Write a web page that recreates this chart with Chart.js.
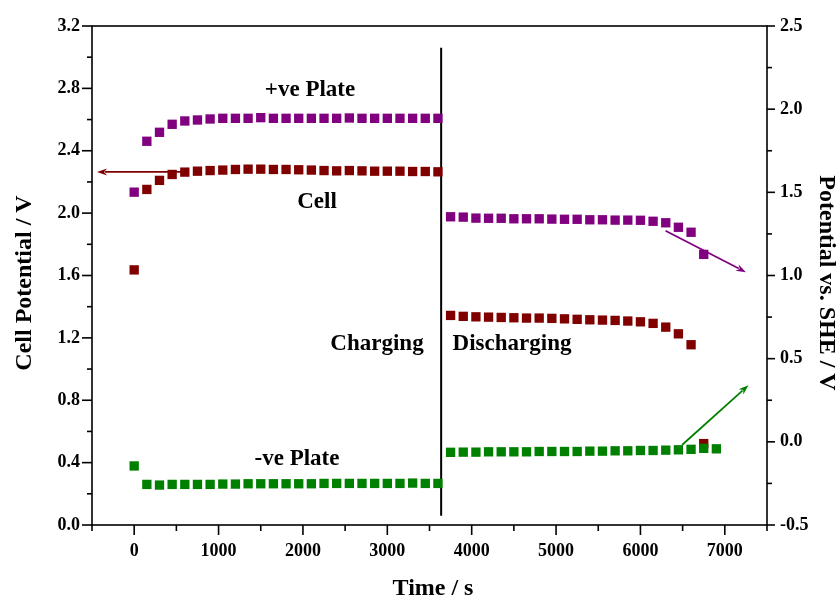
<!DOCTYPE html>
<html><head><meta charset="utf-8">
<script src="https://cdn.jsdelivr.net/npm/chart.js@4/dist/chart.umd.min.js"></script>
<style>html,body{margin:0;padding:0;background:#fff}</style>
</head><body>
<canvas id="c" width="838" height="598"></canvas>
<script>
// ---- data ----
const chargeTimes = [0,150,300,450,600,750,900,1050,1200,1350,1500,1650,1800,1950,2100,2250,2400,2550,2700,2850,3000,3150,3300,3450,3600];
const plusCharge  = [1.501,1.807,1.861,1.909,1.929,1.935,1.941,1.945,1.945,1.945,1.949,1.945,1.945,1.945,1.945,1.945,1.945,1.947,1.945,1.945,1.945,1.945,1.945,1.945,1.945];
const cellCharge  = [1.636,2.152,2.210,2.248,2.263,2.269,2.273,2.276,2.280,2.282,2.282,2.280,2.280,2.278,2.276,2.273,2.271,2.273,2.271,2.269,2.269,2.269,2.267,2.267,2.265];
const minusCharge = [-0.145,-0.256,-0.260,-0.256,-0.256,-0.256,-0.256,-0.254,-0.254,-0.252,-0.252,-0.252,-0.252,-0.252,-0.252,-0.250,-0.250,-0.250,-0.250,-0.250,-0.250,-0.250,-0.248,-0.250,-0.250];

const dischargeTimes = [3750,3900,4050,4200,4350,4500,4650,4800,4950,5100,5250,5400,5550,5700,5850,6000,6150,6300,6450,6600,6750,6900];
const plusDischarge  = [1.353,1.351,1.345,1.344,1.344,1.341,1.341,1.341,1.339,1.338,1.338,1.335,1.335,1.333,1.333,1.332,1.326,1.317,1.290,1.260,1.127];
const cellDischarge  = [1.344,1.338,1.335,1.333,1.331,1.329,1.327,1.327,1.325,1.322,1.319,1.316,1.314,1.312,1.308,1.303,1.293,1.269,1.226,1.156,0.522];
const minusDischarge = [-0.063,-0.062,-0.062,-0.060,-0.060,-0.060,-0.060,-0.058,-0.058,-0.058,-0.058,-0.056,-0.056,-0.054,-0.054,-0.052,-0.052,-0.050,-0.048,-0.045,-0.039,-0.042];

const xTickLabels = ['0','1000','2000','3000','4000','5000','6000','7000'];
const leftTickLabels = ['0.0','0.4','0.8','1.2','1.6','2.0','2.4','2.8','3.2'];
const rightTickLabels = ['-0.5','0.0','0.5','1.0','1.5','2.0','2.5'];

const seriesNames = ['+ve Plate','Cell','-ve Plate'];
const phaseNames = ['Charging','Discharging'];
const axisTitles = {x:'Time / s', left:'Cell Potential / V', right:'Potential vs. SHE / V'};

// annotation anchors in data units
const switchTime = 3638;               // charge/discharge divider
const dividerRange = [0.06, 3.06];     // left-axis units
const cellArrow  = {from:[600, 2.264], to:[-440, 2.264], axis:'yL'};
const plusArrow  = {from:[6297, 1.269], to:[7250, 1.020], axis:'yR'};
const minusArrow = {from:[6493, -0.019], to:[7280, 0.340], axis:'yR'};

function pts(t, v){ return v.map((y,i)=>({x:t[i], y})); }

const PURPLE='#800080', MAROON='#800000', GREEN='#008000';
const FONT = "'Liberation Serif','Times New Roman',serif";

const deco = {
  id:'deco',
  beforeDatasetsDraw(chart){
    const {ctx, chartArea:a, scales} = chart;
    ctx.save();
    ctx.strokeStyle='#000'; ctx.lineWidth=1.6;
    ctx.strokeRect(a.left, a.top, a.right-a.left, a.bottom-a.top);
    const xd = scales.x.getPixelForValue(switchTime);
    ctx.lineWidth=2;
    ctx.beginPath();
    ctx.moveTo(xd, scales.yL.getPixelForValue(dividerRange[0]));
    ctx.lineTo(xd, scales.yL.getPixelForValue(dividerRange[1]));
    ctx.stroke();
    ctx.restore();
  },
  afterDatasetsDraw(chart){
    const {ctx, scales} = chart;
    function arrow(ar, color){
      const ys = scales[ar.axis];
      const x0=scales.x.getPixelForValue(ar.from[0]), y0=ys.getPixelForValue(ar.from[1]);
      const x1=scales.x.getPixelForValue(ar.to[0]),   y1=ys.getPixelForValue(ar.to[1]);
      const ang=Math.atan2(y1-y0,x1-x0), L=10, W=3.5;
      ctx.save();
      ctx.strokeStyle=color; ctx.fillStyle=color; ctx.lineWidth=1.8;
      ctx.beginPath(); ctx.moveTo(x0,y0);
      ctx.lineTo(x1-Math.cos(ang)*L*0.8, y1-Math.sin(ang)*L*0.8); ctx.stroke();
      ctx.beginPath();
      ctx.moveTo(x1,y1);
      ctx.lineTo(x1-Math.cos(ang)*L+Math.sin(ang)*W, y1-Math.sin(ang)*L-Math.cos(ang)*W);
      ctx.lineTo(x1-Math.cos(ang)*L*0.7, y1-Math.sin(ang)*L*0.7);
      ctx.lineTo(x1-Math.cos(ang)*L-Math.sin(ang)*W, y1-Math.sin(ang)*L+Math.cos(ang)*W);
      ctx.closePath(); ctx.fill();
      ctx.restore();
    }
    arrow(cellArrow, MAROON);
    arrow(plusArrow, PURPLE);
    arrow(minusArrow, GREEN);
  },
  afterDraw(chart){
    const {ctx, chartArea:a, scales} = chart;
    ctx.save();
    ctx.strokeStyle='#000'; ctx.lineWidth=1.6;
    scales.x.ticks.forEach(t=>{
      const px=scales.x.getPixelForValue(t.value);
      const major = Math.abs(t.value%1000)<1e-6;
      ctx.beginPath(); ctx.moveTo(px,a.bottom); ctx.lineTo(px,a.bottom+(major?10:6)); ctx.stroke();
    });
    scales.yL.ticks.forEach(t=>{
      const py=scales.yL.getPixelForValue(t.value);
      const major = Math.round(t.value*10)%4===0;
      ctx.beginPath(); ctx.moveTo(a.left,py); ctx.lineTo(a.left-(major?10:5),py); ctx.stroke();
    });
    scales.yR.ticks.forEach(t=>{
      const py=scales.yR.getPixelForValue(t.value);
      const major = Math.round(t.value*4)%2===0;
      ctx.beginPath(); ctx.moveTo(a.right,py); ctx.lineTo(a.right+(major?8:5),py); ctx.stroke();
    });
    ctx.fillStyle='#000';
    ctx.font = "bold 24px "+FONT;
    ctx.textAlign='center'; ctx.textBaseline='alphabetic';
    ctx.fillText(axisTitles.x, 433, 595);
    ctx.save(); ctx.translate(31, 283); ctx.rotate(-Math.PI/2);
    ctx.fillText(axisTitles.left, 0, 0); ctx.restore();
    ctx.save(); ctx.translate(820, 283); ctx.rotate(Math.PI/2);
    ctx.fillText(axisTitles.right, 0, 0); ctx.restore();
    ctx.font = "bold 23px "+FONT;
    ctx.fillText(seriesNames[0], 310, 96);
    ctx.fillText(seriesNames[1], 317, 208);
    ctx.fillText(seriesNames[2], 297, 465);
    ctx.fillText(phaseNames[0], 377, 350);
    ctx.fillText(phaseNames[1], 512, 350);
    ctx.restore();
  }
};

const tickFont = {family:FONT, size:18, weight:'bold'};

new Chart(document.getElementById('c'), {
  type:'scatter',
  data:{datasets:[
    {label:seriesNames[2], yAxisID:'yR', order:0, data:pts(chargeTimes, minusCharge).concat(pts(dischargeTimes, minusDischarge)),
      backgroundColor:GREEN, borderWidth:0, pointStyle:'rect', pointRadius:6.6},
    {label:seriesNames[1], yAxisID:'yL', order:1, data:pts(chargeTimes, cellCharge).concat(pts(dischargeTimes, cellDischarge)),
      backgroundColor:MAROON, borderWidth:0, pointStyle:'rect', pointRadius:6.6},
    {label:seriesNames[0], yAxisID:'yR', order:2, data:pts(chargeTimes, plusCharge).concat(pts(dischargeTimes, plusDischarge)),
      backgroundColor:PURPLE, borderWidth:0, pointStyle:'rect', pointRadius:6.6}
  ]},
  options:{
    responsive:false, animation:false,
    layout:{padding:{top:26,left:0,right:0,bottom:0}},
    plugins:{legend:{display:false}, tooltip:{enabled:false}},
    scales:{
      x:{type:'linear', min:-500, max:7500,
        grid:{display:false, drawTicks:false}, border:{display:false},
        ticks:{stepSize:500, padding:16, color:'#000', font:tickFont, maxRotation:0, autoSkip:false,
          callback:(v)=>{ const i=xTickLabels.indexOf(String(v)); return i>=0?xTickLabels[i]:''; }},
        afterFit:(s)=>{s.height=73;}},
      yL:{type:'linear', position:'left', min:0, max:3.2,
        grid:{display:false, drawTicks:false}, border:{display:false},
        ticks:{stepSize:0.2, padding:12, color:'#000', font:tickFont, autoSkip:false,
          callback:(v)=>{ const s=v.toFixed(1); return (Math.round(v*10)%4===0 && leftTickLabels.includes(s))?s:''; }},
        afterFit:(s)=>{s.width=92;}},
      yR:{type:'linear', position:'right', min:-0.5, max:2.5,
        grid:{display:false, drawTicks:false}, border:{display:false},
        ticks:{stepSize:0.25, padding:13, color:'#000', font:tickFont, autoSkip:false,
          callback:(v)=>{ const s=(Math.abs(v)<1e-9?0:v).toFixed(1); return (Math.round(v*4)%2===0 && rightTickLabels.includes(s))?s:''; }},
        afterFit:(s)=>{s.width=71;}}
    }
  },
  plugins:[deco]
});
</script>
</body></html>
